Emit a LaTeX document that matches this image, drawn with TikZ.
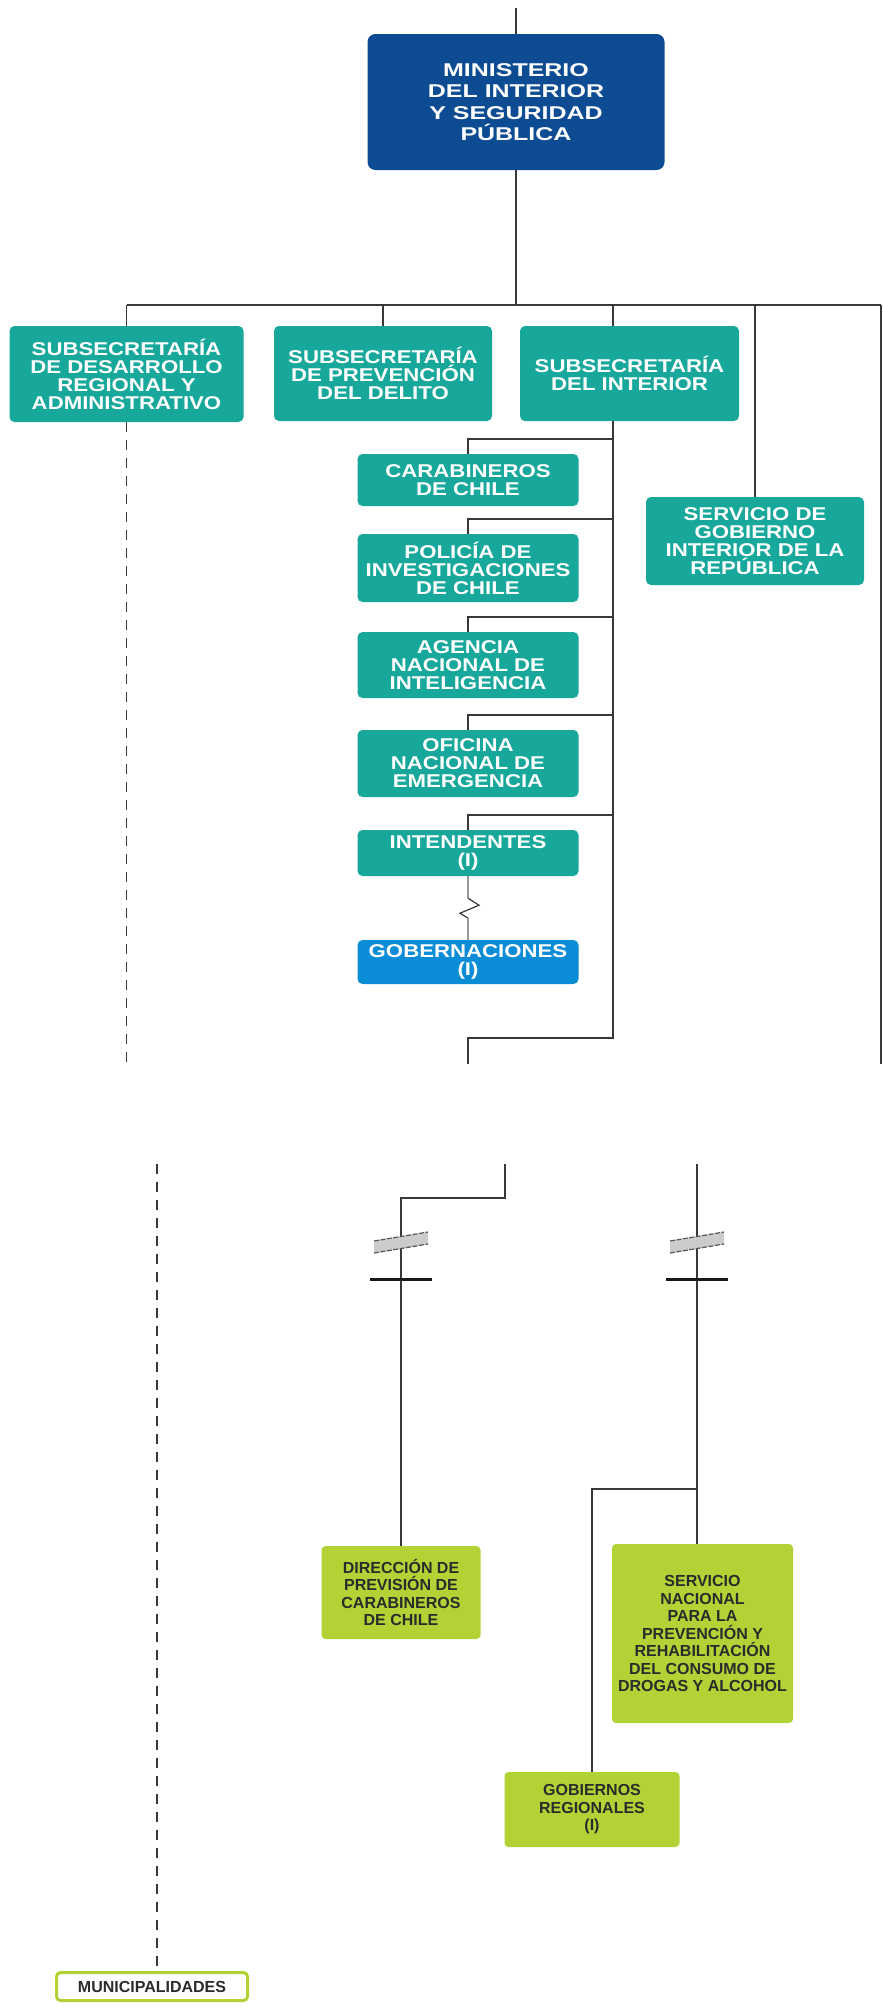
\documentclass[tikz,border=0pt]{standalone}
\usepackage{fontspec}
\setmainfont{Liberation Sans}
\newfontfamily\widesans[FakeStretch=1.2]{Liberation Sans}
\newfontfamily\minsans[FakeStretch=1.35]{Liberation Sans}
\definecolor{minblue}{HTML}{0D4C92}
\definecolor{orgteal}{HTML}{17A89B}
\definecolor{govblue}{HTML}{0A8CD6}
\definecolor{orglime}{HTML}{B3D236}
\definecolor{linec}{HTML}{383838}
\definecolor{lowtext}{HTML}{2B2B2B}
\tikzset{
  link/.style={draw=linec, line width=1.6pt},
  dashlink/.style={draw=linec, line width=1.6pt, dash pattern=on 10pt off 8pt},
  zig/.style={draw=black!40, line width=2pt},
  minbox/.style={fill=minblue, text=white, rounded corners=8pt, inner sep=0pt, align=center,
    font=\minsans\bfseries\fontsize{18.5pt}{21.5pt}\selectfont},
  subbox/.style={fill=orgteal, text=white, rounded corners=5pt, inner sep=0pt, align=center,
    font=\widesans\bfseries\fontsize{18.5pt}{18pt}\selectfont},
  govbox/.style={subbox, fill=govblue},
  lowbox/.style={fill=orglime, text=lowtext, rounded corners=4pt, inner sep=0pt, align=center,
    font=\bfseries\fontsize{16pt}{17.5pt}\selectfont},
  munibox/.style={lowbox, fill=white, draw=orglime, line width=3pt}
}
\begin{document}
\begin{tikzpicture}[x=1pt,y=-1pt]
            \useasboundingbox (0,0) rectangle (883,2008);
            \node[minbox, minimum width=297, minimum height=136] (min) at (516,102) {MINISTERIO\\DEL INTERIOR\\Y SEGURIDAD\\PÚBLICA};
            \node[subbox, minimum width=234, minimum height=96] (dra) at (126.5,374) {SUBSECRETARÍA\\DE DESARROLLO\\REGIONAL Y\\ADMINISTRATIVO};
            \node[subbox, minimum width=218, minimum height=95] (spd) at (383,373.5) {SUBSECRETARÍA\\DE PREVENCIÓN\\DEL DELITO};
            \node[subbox, minimum width=219, minimum height=95] (sdi) at (629.5,373.5) {SUBSECRETARÍA\\DEL INTERIOR};
            \node[subbox, minimum width=218, minimum height=88] (sgi) at (755,541) {SERVICIO DE\\GOBIERNO\\INTERIOR DE LA\\REPÚBLICA};
            \node[subbox, minimum width=221, minimum height=52] (car) at (468,480) {CARABINEROS\\DE CHILE};
            \node[subbox, minimum width=221, minimum height=68] (pdi) at (468,568) {POLICÍA DE\\INVESTIGACIONES\\DE CHILE};
            \node[subbox, minimum width=221, minimum height=66] (ani) at (468,665) {AGENCIA\\NACIONAL DE\\INTELIGENCIA};
            \node[subbox, minimum width=221, minimum height=67] (onemi) at (468,763.5) {OFICINA\\NACIONAL DE\\EMERGENCIA};
            \node[subbox, minimum width=221, minimum height=46] (inte) at (468,853) {INTENDENTES\\(I)};
            \node[govbox, minimum width=221, minimum height=44] (gob) at (468,962) {GOBERNACIONES\\(I)};
            \coordinate (top) at (516,8);
            \coordinate (barL) at (126.5,305);
            \coordinate (barR) at (881,305);
            \coordinate (spine) at (613,305);
            \draw[link] (top) -- (min.north);
            \draw[link] (min.south) -- (min.south |- barL);
            \draw[link] (barL) -- (barR);
            \draw[link] (barL) -- (dra.north);
            \draw[link] (spd.north |- barL) -- (spd.north);
            \draw[link] (spine) -- (spine |- sdi.north);
            \draw[link] (sgi.north |- barL) -- (sgi.north);
            \draw[link] (barR) -- (881,1064);
            \draw[dashlink] (dra.south) -- (126.5,1064);
            \draw[link] (spine |- sdi.south) -- (613,1038) -- (468,1038) -- (468,1064);
            \foreach \n in {car,pdi,ani,onemi,inte}
              \draw[link] (\n.north) -- ++(0,-15) -- ++(145,0);
            \draw[zig] (inte.south) -- ++(0,22) coordinate (z1);
            \draw[link, line width=1.2pt] (z1) -- ++(11,7) -- ++(-19,8) -- ++(8,5) coordinate (z2);
            \draw[zig] (z2) -- (gob.north);
            \node[lowbox, minimum width=159, minimum height=93] (dpc) at (401,1592.5) {DIRECCIÓN DE\\PREVISIÓN DE\\CARABINEROS\\DE CHILE};
            \node[lowbox, minimum width=181, minimum height=179] (senda) at (702.5,1633.5) {SERVICIO\\NACIONAL\\PARA LA\\PREVENCIÓN Y\\REHABILITACIÓN\\DEL CONSUMO DE\\DROGAS Y ALCOHOL};
            \node[lowbox, minimum width=175, minimum height=75] (gore) at (592,1809.5) {GOBIERNOS\\REGIONALES\\(I)};
            \node[munibox, minimum width=191, minimum height=28] (muni) at (152,1986.5) {MUNICIPALIDADES};
            \coordinate (dashTop) at (157,1164);
            \coordinate (cutL) at (505,1164);
            \coordinate (cutR) at (697,1164);
            \coordinate (jn) at (697,1489);
            \draw[dashlink] (dashTop) -- (dashTop |- muni.north);
            \draw[link, line width=1.4pt] (cutL) -- (505,1198) -| (dpc.north);
            \draw[link, line width=1.4pt] (cutR) -- (cutR |- senda.north);
            \draw[link, line width=1.4pt] (jn) -| (gore.north);
            \foreach \x in {401,697}{
              \fill[black!20] (\x-27,1253) -- (\x+27,1244) -- (\x+27,1232) -- (\x-27,1241) -- cycle;
              \draw[black!65, line width=1.2pt, dash pattern=on 5pt off 1.5pt] (\x-27,1241) -- (\x+27,1232);
              \draw[black!65, line width=1.2pt, dash pattern=on 5pt off 1.5pt] (\x-27,1253) -- (\x+27,1244);
              \draw[black!90, line width=3pt] (\x-31,1279) -- (\x+31,1279);
            }
        \end{tikzpicture}
\end{document}
